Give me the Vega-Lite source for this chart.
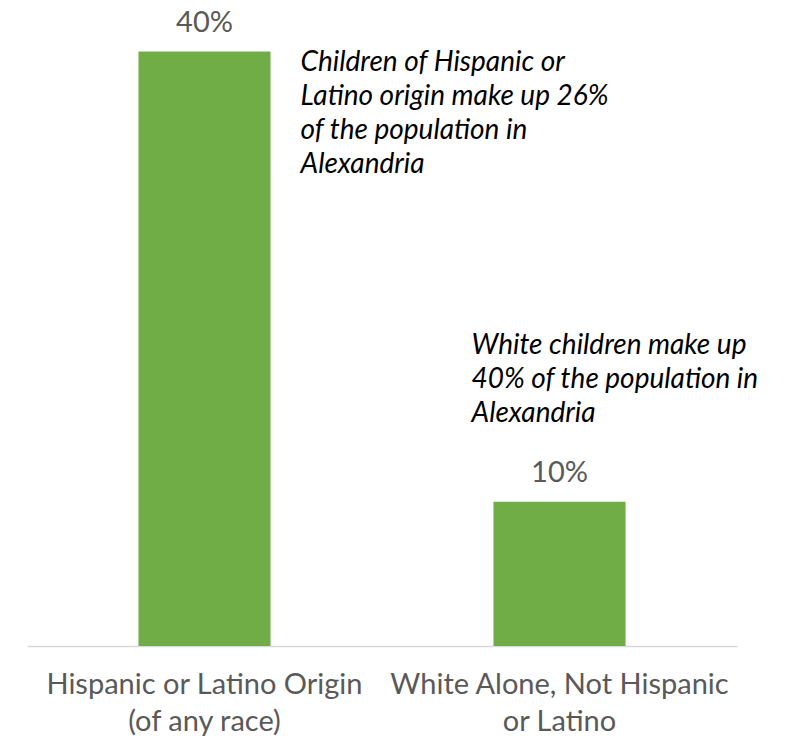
{
  "$schema": "https://vega.github.io/schema/vega-lite/v6.json",
  "autosize": {"type": "none"},
  "padding": {"left": 27, "top": 7, "right": 58, "bottom": 96},
  "width": 710,
  "height": 639,
  "background": "white",
  "config": {"view": {"stroke": null}, "font": "Lato"},
  "data": {
    "values": [
      {"group": "Hispanic or Latino Origin (of any race)", "share": 0.40, "note": ["Children of Hispanic or", "Latino origin make up 26%", "of the population in", "Alexandria"]},
      {"group": "White Alone, Not Hispanic or Latino", "share": 0.097, "note": ["White children make up", "40% of the population in", "Alexandria"]}
    ]
  },
  "encoding": {
    "x": {
      "field": "group", "type": "nominal", "sort": null,
      "scale": {"paddingInner": 0.628, "paddingOuter": 0.314},
      "axis": {
        "title": null, "labelAngle": 0, "ticks": false,
        "domainColor": "#D9D9D9", "domainWidth": 1.5,
        "labelColor": "#595959", "labelFontSize": 29, "labelFont": "Lato",
        "labelLimit": 0,
        "labelPadding": 24, "labelLineHeight": 37, "labelBaseline": "top",
        "labelExpr": "datum.value == 'Hispanic or Latino Origin (of any race)' ? ['Hispanic or Latino Origin', '(of any race)'] : ['White Alone, Not Hispanic', 'or Latino']"
      }
    },
    "y": {
      "field": "share", "type": "quantitative",
      "scale": {"domain": [0, 0.43], "nice": false},
      "axis": null
    }
  },
  "layer": [
    {"mark": {"type": "bar", "color": "#70AD47"}},
    {
      "mark": {"type": "text", "baseline": "alphabetic", "dy": -20, "fontSize": 29, "color": "#595959"},
      "encoding": {"text": {"field": "share", "type": "quantitative", "format": ".0%"}}
    },
    {
      "transform": [{"filter": "datum.group == 'Hispanic or Latino Origin (of any race)'"}],
      "mark": {"type": "text", "align": "left", "baseline": "top", "dx": 96, "dy": -3, "fontSize": 28, "fontStyle": "italic", "lineHeight": 34, "color": "#000000"},
      "encoding": {"text": {"field": "note"}}
    },
    {
      "transform": [{"filter": "datum.group == 'White Alone, Not Hispanic or Latino'"}],
      "mark": {"type": "text", "align": "left", "baseline": "top", "dx": -88, "dy": -170, "fontSize": 28, "fontStyle": "italic", "lineHeight": 34, "color": "#000000"},
      "encoding": {"text": {"field": "note"}}
    }
  ]
}
